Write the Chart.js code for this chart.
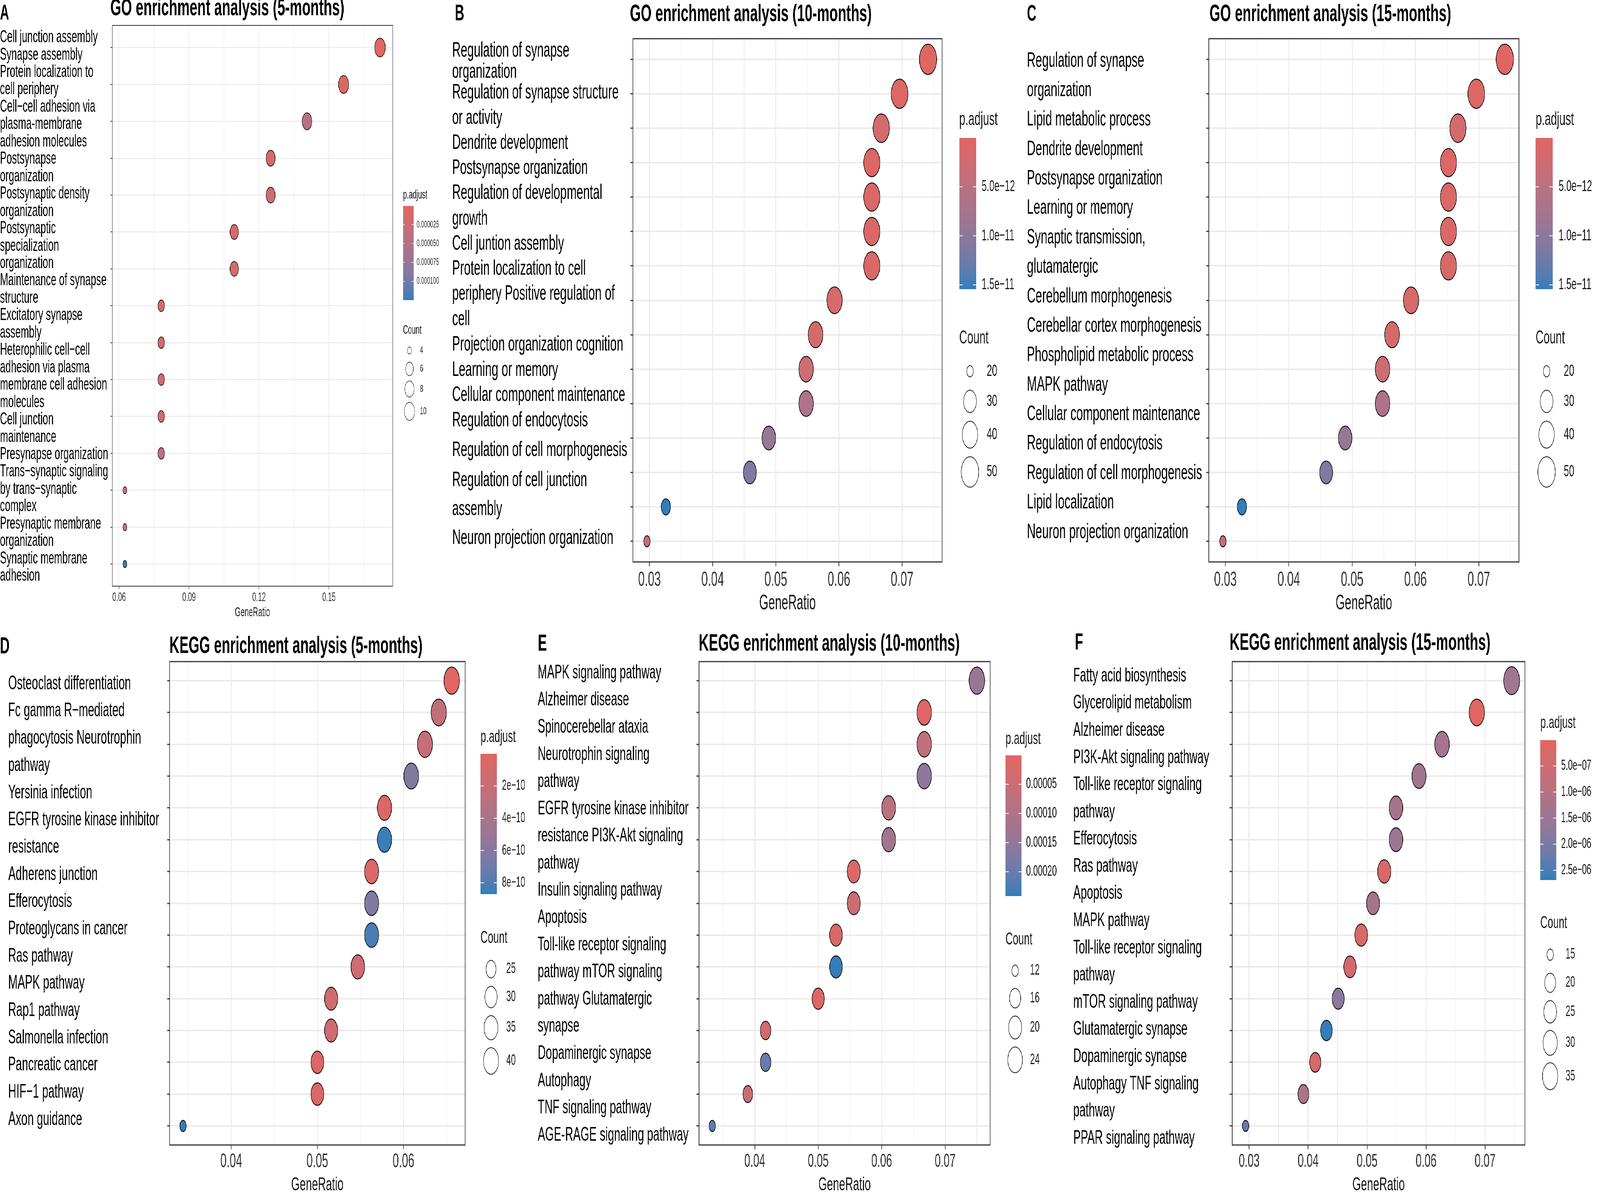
<!DOCTYPE html>
<html>
<head>
<meta charset="utf-8">
<title>GO / KEGG enrichment analysis</title>
<script src="https://cdn.jsdelivr.net/npm/chart.js@4.4.1/dist/chart.umd.min.js"></script>
<style>
  html, body { margin: 0; padding: 0; background: #fff; overflow: hidden; }
  #page { position: absolute; left: 0; top: 0; width: 7162px; height: 3081px; overflow: hidden; background: #fff; transform-origin: 0 0; }
  #page canvas { position: absolute; }
</style>
</head>
<body>
<div id="page"></div>
<script>
// ---------- A: GO enrichment (5-months) ----------
const goA_terms = ['Cell junction assembly', 'Synapse assembly', 'Protein localization to cell periphery',
  'Cell-cell adhesion via plasma-membrane adhesion molecules', 'Postsynapse organization',
  'Postsynaptic density organization', 'Postsynaptic specialization organization', 'Maintenance of synapse structure',
  'Excitatory synapse assembly', 'Heterophilic cell-cell adhesion via plasma membrane cell adhesion molecules',
  'Cell junction maintenance', 'Presynapse organization', 'Trans-synaptic signaling by trans-synaptic complex',
  'Presynaptic membrane organization', 'Synaptic membrane adhesion'];
const goA_ratio = [0.1719, 0.1563, 0.1406, 0.1250, 0.1250, 0.1094, 0.1094, 0.0781, 0.0781, 0.0781, 0.0781, 0.0781, 0.0625, 0.0625, 0.0625];
const goA_count = [11, 10, 9, 8, 8, 7, 7, 5, 5, 5, 5, 5, 4, 4, 4];
const goA_padj = [2.0e-7, 4.5e-6, 4.6e-5, 1.1e-5, 2.2e-5, 6.0e-6, 9.0e-6, 1.1e-5, 1.1e-5, 1.3e-5, 1.3e-5, 3.8e-5, 9.0e-6, 1.2e-5, 1.244e-4];
const goA_lines = ['Cell junction assembly', 'Synapse assembly', 'Protein localization to', 'cell periphery',
  'Cell\u2212cell adhesion via', 'plasma-membrane', 'adhesion molecules', 'Postsynapse', 'organization',
  'Postsynaptic density', 'organization', 'Postsynaptic', 'specialization', 'organization',
  'Maintenance of synapse', 'structure', 'Excitatory synapse', 'assembly', 'Heterophilic cell\u2212cell',
  'adhesion via plasma', 'membrane cell adhesion', 'molecules', 'Cell junction', 'maintenance',
  'Presynapse organization', 'Trans\u2212synaptic signaling', 'by trans\u2212synaptic', 'complex',
  'Presynaptic membrane', 'organization', 'Synaptic membrane', 'adhesion'];
const goA_xTicks = [0.06, 0.09, 0.12, 0.15];
const goA_xTickLabels = ['0.06', '0.09', '0.12', '0.15'];
const goA_padjBreaks = [0.000025, 0.00005, 0.000075, 0.0001];
const goA_padjLabels = ['0.000025', '0.000050', '0.000075', '0.000100'];
const goA_countBreaks = [4, 6, 8, 10];

// ---------- B: GO enrichment (10-months) ----------
const goB_terms = ['Regulation of synapse organization', 'Regulation of synapse structure or activity',
  'Dendrite development', 'Postsynapse organization', 'Regulation of developmental growth', 'Cell juntion assembly',
  'Protein localization to cell periphery', 'Positive regulation of cell projection organization', 'Cognition',
  'Learning or memory', 'Cellular component maintenance', 'Regulation of endocytosis',
  'Regulation of cell morphogenesis', 'Regulation of cell junction assembly', 'Neuron projection organization'];
const goB_ratio = [0.0741, 0.0696, 0.0667, 0.0652, 0.0652, 0.0652, 0.0652, 0.0593, 0.0563, 0.0548, 0.0548, 0.0489, 0.0459, 0.0326, 0.0296];
const goB_count = [50, 47, 45, 44, 44, 44, 44, 40, 38, 37, 37, 33, 31, 22, 20];
const goB_padj = [2e-14, 4e-13, 1.8e-12, 6e-13, 8e-13, 9e-13, 1.0e-12, 1.2e-12, 1.5e-12, 3.0e-12, 6.5e-12, 9.0e-12, 1.1e-11, 1.54e-11, 3.5e-12];
const goB_lines = ['Regulation of synapse', 'organization', 'Regulation of synapse structure', 'or activity',
  'Dendrite development', 'Postsynapse organization', 'Regulation of developmental', 'growth',
  'Cell juntion assembly', 'Protein localization to cell', 'periphery Positive regulation of', 'cell',
  'Projection organization cognition', 'Learning or memory', 'Cellular component maintenance',
  'Regulation of endocytosis', 'Regulation of cell morphogenesis', 'Regulation of cell junction', 'assembly',
  'Neuron projection organization'];
const goB_xTicks = [0.03, 0.04, 0.05, 0.06, 0.07];
const goB_xTickLabels = ['0.03', '0.04', '0.05', '0.06', '0.07'];
const goB_padjBreaks = [5e-12, 1e-11, 1.5e-11];
const goB_padjLabels = ['5.0e\u221212', '1.0e\u221211', '1.5e\u221211'];
const goB_countBreaks = [20, 30, 40, 50];

// ---------- C: GO enrichment (15-months) ----------
const goC_terms = ['Regulation of synapse organization', 'Lipid metabolic process', 'Dendrite development',
  'Postsynapse organization', 'Learning or memory', 'Synaptic transmission, glutamatergic',
  'Cerebellum morphogenesis', 'Cerebellar cortex morphogenesis', 'Phospholipid metabolic process', 'MAPK pathway',
  'Cellular component maintenance', 'Regulation of endocytosis', 'Regulation of cell morphogenesis',
  'Lipid localization', 'Neuron projection organization'];
const goC_ratio = [0.0741, 0.0696, 0.0667, 0.0652, 0.0652, 0.0652, 0.0652, 0.0593, 0.0563, 0.0548, 0.0548, 0.0489, 0.0459, 0.0326, 0.0296];
const goC_count = [50, 47, 45, 44, 44, 44, 44, 40, 38, 37, 37, 33, 31, 22, 20];
const goC_padj = [2e-14, 4e-13, 1.8e-12, 6e-13, 8e-13, 9e-13, 1.0e-12, 1.2e-12, 1.5e-12, 3.0e-12, 6.5e-12, 9.0e-12, 1.1e-11, 1.54e-11, 3.5e-12];
const goC_lines = ['Regulation of synapse', 'organization', 'Lipid metabolic process', 'Dendrite development',
  'Postsynapse organization', 'Learning or memory', 'Synaptic transmission,', 'glutamatergic',
  'Cerebellum morphogenesis', 'Cerebellar cortex morphogenesis', 'Phospholipid metabolic process', 'MAPK pathway',
  'Cellular component maintenance', 'Regulation of endocytosis', 'Regulation of cell morphogenesis',
  'Lipid localization', 'Neuron projection organization'];
const goC_xTicks = [0.03, 0.04, 0.05, 0.06, 0.07];
const goC_xTickLabels = ['0.03', '0.04', '0.05', '0.06', '0.07'];
const goC_padjBreaks = [5e-12, 1e-11, 1.5e-11];
const goC_padjLabels = ['5.0e\u221212', '1.0e\u221211', '1.5e\u221211'];
const goC_countBreaks = [20, 30, 40, 50];

// ---------- D: KEGG enrichment (5-months) ----------
const keggD_terms = ['Osteoclast differentiation', 'Fc gamma R-mediated phagocytosis', 'Neurotrophin pathway',
  'Yersinia infection', 'EGFR tyrosine kinase inhibitor resistance', 'Adherens junction', 'Efferocytosis',
  'Proteoglycans in cancer', 'Ras pathway', 'MAPK pathway', 'Rap1 pathway', 'Salmonella infection',
  'Pancreatic cancer', 'HIF-1 pathway', 'Axon guidance'];
const keggD_ratio = [0.0656, 0.0641, 0.0625, 0.0609, 0.0578, 0.0578, 0.0563, 0.0563, 0.0563, 0.0547, 0.0516, 0.0516, 0.0500, 0.0500, 0.0344];
const keggD_count = [42, 41, 40, 39, 37, 37, 36, 36, 36, 35, 33, 33, 32, 32, 22];
const keggD_padj = [1e-12, 2.3e-10, 1.9e-10, 6.2e-10, 4e-11, 8.5e-10, 5e-11, 6.3e-10, 8.2e-10, 1.5e-10, 1.3e-10, 1.5e-10, 3e-11, 5e-11, 8.68e-10];
const keggD_lines = ['Osteoclast differentiation', 'Fc gamma R\u2212mediated', 'phagocytosis Neurotrophin', 'pathway',
  'Yersinia infection', 'EGFR tyrosine kinase inhibitor', 'resistance', 'Adherens junction', 'Efferocytosis',
  'Proteoglycans in cancer', 'Ras pathway', 'MAPK pathway', 'Rap1 pathway', 'Salmonella infection',
  'Pancreatic cancer', 'HIF\u22121 pathway', 'Axon guidance'];
const keggD_xTicks = [0.04, 0.05, 0.06];
const keggD_xTickLabels = ['0.04', '0.05', '0.06'];
const keggD_padjBreaks = [2e-10, 4e-10, 6e-10, 8e-10];
const keggD_padjLabels = ['2e\u221210', '4e\u221210', '6e\u221210', '8e\u221210'];
const keggD_countBreaks = [25, 30, 35, 40];

// ---------- E: KEGG enrichment (10-months) ----------
const keggE_terms = ['MAPK signaling pathway', 'Alzheimer disease', 'Spinocerebellar ataxia',
  'Neurotrophin signaling pathway', 'EGFR tyrosine kinase inhibitor resistance', 'PI3K-Akt signaling pathway',
  'Insulin signaling pathway', 'Apoptosis', 'Toll-like receptor signaling pathway', 'mTOR signaling pathway',
  'Glutamatergic synapse', 'Dopaminergic synapse', 'Autophagy', 'TNF signaling pathway', 'AGE-RAGE signaling pathway'];
const keggE_ratio = [0.0750, 0.0667, 0.0667, 0.0667, 0.0611, 0.0611, 0.0556, 0.0556, 0.0528, 0.0528, 0.0500, 0.0417, 0.0417, 0.0389, 0.0333];
const keggE_count = [27, 24, 24, 24, 22, 22, 20, 20, 19, 19, 18, 15, 15, 14, 12];
const keggE_padj = [1.35e-4, 3e-6, 7.0e-5, 1.55e-4, 8.0e-5, 1.25e-4, 1.2e-5, 4.5e-5, 2.0e-5, 2.41e-4, 5e-7, 3.0e-5, 2.0e-4, 5.0e-5, 2.1e-4];
const keggE_lines = ['MAPK signaling pathway', 'Alzheimer disease', 'Spinocerebellar ataxia', 'Neurotrophin signaling',
  'pathway', 'EGFR tyrosine kinase inhibitor', 'resistance PI3K-Akt signaling', 'pathway',
  'Insulin signaling pathway', 'Apoptosis', 'Toll-like receptor signaling', 'pathway mTOR signaling',
  'pathway Glutamatergic', 'synapse', 'Dopaminergic synapse', 'Autophagy', 'TNF signaling pathway',
  'AGE-RAGE signaling pathway'];
const keggE_xTicks = [0.04, 0.05, 0.06, 0.07];
const keggE_xTickLabels = ['0.04', '0.05', '0.06', '0.07'];
const keggE_padjBreaks = [0.00005, 0.0001, 0.00015, 0.0002];
const keggE_padjLabels = ['0.00005', '0.00010', '0.00015', '0.00020'];
const keggE_countBreaks = [12, 16, 20, 24];

// ---------- F: KEGG enrichment (15-months) ----------
const keggF_terms = ['Fatty acid biosynthesis', 'Glycerolipid metabolism', 'Alzheimer disease',
  'PI3K-Akt signaling pathway', 'Toll-like receptor signaling pathway', 'Efferocytosis', 'Ras pathway', 'Apoptosis',
  'MAPK pathway', 'mTOR signaling pathway', 'Glutamatergic synapse', 'Dopaminergic synapse', 'Autophagy',
  'TNF signaling pathway', 'PPAR signaling pathway'];
const keggF_ratio = [0.0745, 0.0686, 0.0627, 0.0588, 0.0549, 0.0549, 0.0529, 0.0510, 0.0490, 0.0471, 0.0451, 0.0431, 0.0412, 0.0392, 0.0294];
const keggF_count = [38, 35, 32, 30, 28, 28, 27, 26, 25, 24, 23, 22, 21, 20, 15];
const keggF_padj = [1.4e-6, 6e-9, 1.35e-6, 1.35e-6, 1.3e-6, 1.45e-6, 2e-7, 1.25e-6, 1.5e-7, 3e-7, 1.75e-6, 2.68e-6, 2.5e-7, 1.15e-6, 2.3e-6];
const keggF_lines = ['Fatty acid biosynthesis', 'Glycerolipid metabolism', 'Alzheimer disease',
  'PI3K-Akt signaling pathway', 'Toll-like receptor signaling', 'pathway', 'Efferocytosis', 'Ras pathway',
  'Apoptosis', 'MAPK pathway', 'Toll-like receptor signaling', 'pathway', 'mTOR signaling pathway',
  'Glutamatergic synapse', 'Dopaminergic synapse', 'Autophagy TNF signaling', 'pathway', 'PPAR signaling pathway'];
const keggF_xTicks = [0.03, 0.04, 0.05, 0.06, 0.07];
const keggF_xTickLabels = ['0.03', '0.04', '0.05', '0.06', '0.07'];
const keggF_padjBreaks = [5e-7, 1e-6, 1.5e-6, 2e-6, 2.5e-6];
const keggF_padjLabels = ['5.0e\u221207', '1.0e\u221206', '1.5e\u221206', '2.0e\u221206', '2.5e\u221206'];
const keggF_countBreaks = [15, 20, 25, 30, 35];

const FONT = '"Liberation Sans", Arial, Helvetica, sans-serif';
Chart.defaults.font.family = FONT;

// design size of the whole figure; the page is scaled to the real window afterwards
const PAGE_W = 7162, PAGE_H = 3081;

// layout / style of the six panels (design pixel coordinates)
const bigFont = { lines: 53, title: 62, letter: 58, tick: 52, axisTitle: 53, legendTitle: 49, barLabel: 41, countLabel: 42 };
const bigStroke = { grid: 4, minor: 2, border: 3, point: 2.5, tick: 3, tickLen: 11, legend: 2, barTick: 2 };

const panels = [
  { id: 'A', title: 'GO enrichment analysis (5-months)',
    terms: goA_terms, ratio: goA_ratio, count: goA_count, padj: goA_padj, lines: goA_lines,
    xTicks: goA_xTicks, xTickLabels: goA_xTickLabels, padjBreaks: goA_padjBreaks, padjLabels: goA_padjLabels, countBreaks: goA_countBreaks,
    region: [0, 0, 2010, 1600], box: [502, 65, 1758, 1500], letterPos: [0, 35], titlePos: [494, 22],
    linesX: 0, linesY: [96, 1474], xTitleY: 1568, xH: 60, tickPad: 3,
    padjTitleY: 499, bar: [1804, 527, 1851, 767], barLabelX: 1865,
    countTitleY: 845, circleX: 1833, circleY0: 897, countLabelX: 1880,
    font: { lines: 44, title: 62, letter: 56, tick: 31, axisTitle: 33, legendTitle: 31, barLabel: 24, countLabel: 26 },
    size: { dmin: 20, dmax: 50, keyMin: 46, keyGap: 12 },
    stroke: { grid: 2.5, minor: 1.2, border: 2, point: 2, tick: 2, tickLen: 8, legend: 1.5, barTick: 1.2 } },
  { id: 'B', title: 'GO enrichment analysis (10-months)',
    terms: goB_terms, ratio: goB_ratio, count: goB_count, padj: goB_padj, lines: goB_lines,
    xTicks: goB_xTicks, xTickLabels: goB_xTickLabels, padjBreaks: goB_padjBreaks, padjLabels: goB_padjLabels, countBreaks: goB_countBreaks,
    region: [2010, 0, 2550, 1600], box: [2833, 99, 4217, 1438], letterPos: [2036, 36], titlePos: [2820, 37],
    linesX: 2024, linesYList: [130, 184, 237, 302, 366, 430, 494, 560, 624, 688, 752, 817, 882, 947, 1011, 1076, 1152, 1229, 1303, 1377],
    xTitleY: 1544, xH: 100, tickPad: 4,
    padjTitleY: 306, bar: [4294, 353, 4370, 739], barLabelX: 4394,
    countTitleY: 865, circleX: 4342, circleY0: 950, countLabelX: 4417,
    font: bigFont, size: { dmin: 31, dmax: 80, keyMin: 75, keyGap: 20 }, stroke: bigStroke },
  { id: 'C', title: 'GO enrichment analysis (15-months)',
    terms: goC_terms, ratio: goC_ratio, count: goC_count, padj: goC_padj, lines: goC_lines,
    xTicks: goC_xTicks, xTickLabels: goC_xTickLabels, padjBreaks: goC_padjBreaks, padjLabels: goC_padjLabels, countBreaks: goC_countBreaks,
    region: [4560, 0, 2602, 1600], box: [5411, 99, 6799, 1438], letterPos: [4597, 37], titlePos: [5414, 37],
    linesX: 4597, linesY: [156, 1362], xTitleY: 1544, xH: 100, tickPad: 4,
    padjTitleY: 306, bar: [6874, 353, 6950, 739], barLabelX: 6977,
    countTitleY: 865, circleX: 6923, circleY0: 950, countLabelX: 7000,
    font: bigFont, size: { dmin: 31, dmax: 80, keyMin: 75, keyGap: 20 }, stroke: bigStroke },
  { id: 'D', title: 'KEGG enrichment analysis (5-months)',
    terms: keggD_terms, ratio: keggD_ratio, count: keggD_count, padj: keggD_padj, lines: keggD_lines,
    xTicks: keggD_xTicks, xTickLabels: keggD_xTickLabels, padjBreaks: keggD_padjBreaks, padjLabels: keggD_padjLabels, countBreaks: keggD_countBreaks,
    region: [0, 1600, 2390, 1481], box: [759, 1693, 2082, 2930], letterPos: [0, 1655], titlePos: [758, 1654],
    linesX: 37, linesY: [1750, 2865], xTitleY: 3032, xH: 100, tickPad: 2,
    padjTitleY: 1887, bar: [2151, 1929, 2225, 2287], barLabelX: 2247,
    countTitleY: 2401, circleX: 2198, circleY0: 2480, countLabelX: 2266,
    font: { lines: 50, title: 62, letter: 60, tick: 50, axisTitle: 49, legendTitle: 45, barLabel: 37, countLabel: 38 },
    size: { dmin: 31, dmax: 72, keyMin: 68, keyGap: 18 }, stroke: bigStroke },
  { id: 'E', title: 'KEGG enrichment analysis (10-months)',
    terms: keggE_terms, ratio: keggE_ratio, count: keggE_count, padj: keggE_padj, lines: keggE_lines,
    xTicks: keggE_xTicks, xTickLabels: keggE_xTickLabels, padjBreaks: keggE_padjBreaks, padjLabels: keggE_padjLabels, countBreaks: keggE_countBreaks,
    region: [2390, 1600, 2410, 1481], box: [3129, 1693, 4432, 2930], letterPos: [2408, 1648], titlePos: [3128, 1648],
    linesX: 2407, linesY: [1722, 2905], xTitleY: 3032, xH: 100, tickPad: 3,
    padjTitleY: 1892, bar: [4501, 1933, 4572, 2292], barLabelX: 4593,
    countTitleY: 2405, circleX: 4544, circleY0: 2484, countLabelX: 4611,
    font: { lines: 50, title: 62, letter: 60, tick: 48, axisTitle: 49, legendTitle: 45, barLabel: 38, countLabel: 38 },
    size: { dmin: 31, dmax: 72, keyMin: 70, keyGap: 18.5 }, stroke: bigStroke },
  { id: 'F', title: 'KEGG enrichment analysis (15-months)',
    terms: keggF_terms, ratio: keggF_ratio, count: keggF_count, padj: keggF_padj, lines: keggF_lines,
    xTicks: keggF_xTicks, xTickLabels: keggF_xTickLabels, padjBreaks: keggF_padjBreaks, padjLabels: keggF_padjLabels, countBreaks: keggF_countBreaks,
    region: [4800, 1600, 2362, 1481], box: [5516, 1693, 6826, 2930], letterPos: [4812, 1645], titlePos: [5504, 1646],
    linesX: 4804, linesY: [1730, 2913], xTitleY: 3032, xH: 100, tickPad: 3,
    padjTitleY: 1851, bar: [6895, 1894, 6966, 2251], barLabelX: 6988,
    countTitleY: 2363, circleX: 6939, circleY0: 2443, countLabelX: 7008,
    font: { lines: 50, title: 62, letter: 60, tick: 48, axisTitle: 49, legendTitle: 45, barLabel: 37, countLabel: 38 },
    size: { dmin: 31, dmax: 74, keyMin: 72, keyGap: 17 }, stroke: bigStroke }
];

// ggplot-like red -> blue gradient, interpolated in Lab space
const LOW = [224, 102, 99];   // #e06663
const HIGH = [50, 126, 186];  // #327eba

function toLin(c) { c /= 255; return c <= 0.04045 ? c / 12.92 : Math.pow((c + 0.055) / 1.055, 2.4); }
function fromLin(c) {
  const v = c <= 0.0031308 ? 12.92 * c : 1.055 * Math.pow(c, 1 / 2.4) - 0.055;
  return Math.round(Math.max(0, Math.min(1, v)) * 255);
}
function rgbToLab(rgb) {
  const R = toLin(rgb[0]), G = toLin(rgb[1]), B = toLin(rgb[2]);
  const X = (R * 0.4124 + G * 0.3576 + B * 0.1805) / 0.95047;
  const Y = R * 0.2126 + G * 0.7152 + B * 0.0722;
  const Z = (R * 0.0193 + G * 0.1192 + B * 0.9505) / 1.08883;
  const f = t => t > 0.008856 ? Math.cbrt(t) : 7.787 * t + 16 / 116;
  return [116 * f(Y) - 16, 500 * (f(X) - f(Y)), 200 * (f(Y) - f(Z))];
}
function labToRgb(lab) {
  const fy = (lab[0] + 16) / 116, fx = fy + lab[1] / 500, fz = fy - lab[2] / 200;
  const inv = t => t * t * t > 0.008856 ? t * t * t : (t - 16 / 116) / 7.787;
  const X = inv(fx) * 0.95047, Y = inv(fy), Z = inv(fz) * 1.08883;
  return [fromLin(3.2406 * X - 1.5372 * Y - 0.4986 * Z),
          fromLin(-0.9689 * X + 1.8758 * Y + 0.0415 * Z),
          fromLin(0.0557 * X - 0.2040 * Y + 1.0570 * Z)];
}
const LAB_LOW = rgbToLab(LOW), LAB_HIGH = rgbToLab(HIGH);
function ramp(t) {
  const c = labToRgb(LAB_LOW.map((v, k) => v + (LAB_HIGH[k] - v) * t));
  return 'rgb(' + c[0] + ',' + c[1] + ',' + c[2] + ')';
}

// draws the text column, title, box, axis title and the two legends
function makeDecor(p, pMin, pMax, diam) {
  return {
    id: 'decor' + p.id,
    afterDraw(chart) {
      const ctx = chart.ctx, a = chart.chartArea;
      const ox = p.region[0], oy = p.region[1];
      ctx.save();

      ctx.strokeStyle = '#333333';
      ctx.lineWidth = p.stroke.border;
      ctx.strokeRect(a.left, a.top, a.right - a.left, a.bottom - a.top);

      ctx.fillStyle = '#000';
      ctx.textAlign = 'left';
      ctx.textBaseline = 'middle';
      ctx.font = 'bold ' + p.font.letter + 'px ' + FONT;
      ctx.fillText(p.id, p.letterPos[0] - ox, p.letterPos[1] - oy);
      ctx.font = 'bold ' + p.font.title + 'px ' + FONT;
      ctx.fillText(p.title, p.titlePos[0] - ox, p.titlePos[1] - oy);

      // term labels, one text line after the other
      ctx.font = p.font.lines + 'px ' + FONT;
      p.lines.forEach((s, i) => {
        const y = p.linesYList ? p.linesYList[i]
          : p.linesY[0] + (p.linesY[1] - p.linesY[0]) * i / (p.lines.length - 1);
        ctx.fillText(s, p.linesX - ox, y - oy);
      });

      ctx.fillStyle = '#1a1a1a';
      ctx.textAlign = 'center';
      ctx.font = p.font.axisTitle + 'px ' + FONT;
      ctx.fillText('GeneRatio', (a.left + a.right) / 2, p.xTitleY - oy);

      // p.adjust colour bar (small values on top)
      const [bx0, by0, bx1, by1] = p.bar;
      const bw = bx1 - bx0, bh = by1 - by0;
      ctx.textAlign = 'left';
      ctx.font = p.font.legendTitle + 'px ' + FONT;
      ctx.fillText('p.adjust', bx0 - ox, p.padjTitleY - oy);
      const steps = 150;
      for (let k = 0; k < steps; k++) {
        ctx.fillStyle = ramp(k / (steps - 1));
        ctx.fillRect(bx0 - ox, by0 - oy + bh * k / steps, bw, bh / steps + 1);
      }
      ctx.font = p.font.barLabel + 'px ' + FONT;
      p.padjBreaks.forEach((v, i) => {
        const y = by0 + (v - pMin) / (pMax - pMin) * bh - oy;
        ctx.strokeStyle = '#fff';
        ctx.lineWidth = p.stroke.barTick;
        ctx.beginPath();
        ctx.moveTo(bx0 - ox, y); ctx.lineTo(bx0 - ox + bw / 5, y);
        ctx.moveTo(bx1 - ox - bw / 5, y); ctx.lineTo(bx1 - ox, y);
        ctx.stroke();
        ctx.fillStyle = '#1a1a1a';
        ctx.fillText(p.padjLabels[i], p.barLabelX - ox, y);
      });

      // Count size legend
      ctx.font = p.font.legendTitle + 'px ' + FONT;
      ctx.fillText('Count', bx0 - ox, p.countTitleY - oy);
      ctx.font = p.font.countLabel + 'px ' + FONT;
      let cy = p.circleY0, prevH = 0;
      p.countBreaks.forEach((c, i) => {
        const d = diam(c);
        const h = Math.max(p.size.keyMin, d + p.size.keyGap);
        if (i > 0) cy += (prevH + h) / 2;
        prevH = h;
        ctx.strokeStyle = '#111';
        ctx.lineWidth = p.stroke.legend;
        ctx.beginPath();
        ctx.arc(p.circleX - ox, cy - oy, d / 2 - p.stroke.legend / 2, 0, Math.PI * 2);
        ctx.stroke();
        ctx.fillStyle = '#1a1a1a';
        ctx.fillText(String(c), p.countLabelX - ox, cy - oy);
      });
      ctx.restore();
    }
  };
}

document.addEventListener('DOMContentLoaded', () => {
  const page = document.getElementById('page');

  // the browser window can be narrower than the figure: fit the figure to it
  const sx = Math.min(1, window.innerWidth / PAGE_W);
  const sy = Math.min(1, window.innerHeight / PAGE_H);
  page.style.transform = 'scale(' + sx + ',' + sy + ')';

  panels.forEach(p => {
    const [ox, oy, w, h] = p.region;
    const cv = document.createElement('canvas');
    cv.width = w; cv.height = h;
    cv.style.left = ox + 'px'; cv.style.top = oy + 'px';
    cv.style.width = w + 'px'; cv.style.height = h + 'px';
    page.appendChild(cv);

    const pMin = Math.min(...p.padj), pMax = Math.max(...p.padj);
    const cMin = Math.min(...p.count), cMax = Math.max(...p.count);
    const diam = c => p.size.dmin + (p.size.dmax - p.size.dmin) * Math.sqrt((c - cMin) / (cMax - cMin));

    // ggplot default expansion: 5% of the data range on x, 0.6 of a row on y
    const rMin = Math.min(...p.ratio), rMax = Math.max(...p.ratio);
    const ex = (rMax - rMin) * 0.05;
    const xMin = rMin - ex, xMax = rMax + ex;

    const step = p.xTicks[1] - p.xTicks[0];
    const xTickObjs = p.xTicks.map((v, i) => ({ value: v, text: p.xTickLabels[i], minor: false }));
    const mids = [p.xTicks[0] - step / 2, ...p.xTicks.map(v => v + step / 2)];
    mids.forEach(v => { if (v > xMin && v < xMax) xTickObjs.push({ value: v, text: '', minor: true }); });
    xTickObjs.sort((u, v) => u.value - v.value);

    const yW = p.stroke.tickLen + 4;
    const n = p.terms.length;

    new Chart(cv, {
      type: 'scatter',
      data: {
        datasets: [{
          label: p.title,
          data: p.ratio.map((r, i) => ({ x: r, y: i })),
          pointRadius: p.count.map(c => diam(c) / 2 - p.stroke.point / 2),
          pointHoverRadius: p.count.map(c => diam(c) / 2 - p.stroke.point / 2),
          backgroundColor: p.padj.map(v => ramp((v - pMin) / (pMax - pMin))),
          borderColor: '#111',
          borderWidth: p.stroke.point,
          clip: false
        }]
      },
      options: {
        responsive: false,
        animation: false,
        devicePixelRatio: 1,
        events: [],
        layout: {
          padding: {
            left: p.box[0] - ox - yW,
            top: p.box[1] - oy,
            right: ox + w - p.box[2],
            bottom: oy + h - p.box[3] - p.xH
          }
        },
        plugins: { legend: { display: false }, title: { display: false }, tooltip: { enabled: false } },
        scales: {
          x: {
            type: 'linear', min: xMin, max: xMax, bounds: 'data',
            afterBuildTicks: s => { s.ticks = xTickObjs.map(t => ({ value: t.value, text: t.text, minor: t.minor })); },
            afterFit: s => { s.height = p.xH; },
            ticks: {
              autoSkip: false, maxRotation: 0, minRotation: 0, padding: p.tickPad, color: '#333',
              font: { size: p.font.tick, family: FONT },
              callback: (v, i, ticks) => ticks[i].text
            },
            grid: {
              color: '#EBEBEB',
              lineWidth: c => (c.tick && c.tick.minor) ? p.stroke.minor : p.stroke.grid,
              tickLength: p.stroke.tickLen,
              tickWidth: p.stroke.tick,
              tickColor: c => (c.tick && c.tick.minor) ? 'rgba(0,0,0,0)' : '#333'
            },
            border: { display: false }
          },
          y: {
            type: 'linear', reverse: true, min: -0.6, max: n - 0.4, bounds: 'data',
            afterBuildTicks: s => { s.ticks = p.terms.map((t, i) => ({ value: i })); },
            afterFit: s => { s.width = yW; },
            ticks: { display: false },
            grid: {
              color: '#EBEBEB',
              lineWidth: p.stroke.grid,
              tickLength: p.stroke.tickLen,
              tickWidth: p.stroke.tick,
              tickColor: '#333'
            },
            border: { display: false }
          }
        }
      },
      plugins: [makeDecor(p, pMin, pMax, diam)]
    });
  });
});
</script>
</body>
</html>
